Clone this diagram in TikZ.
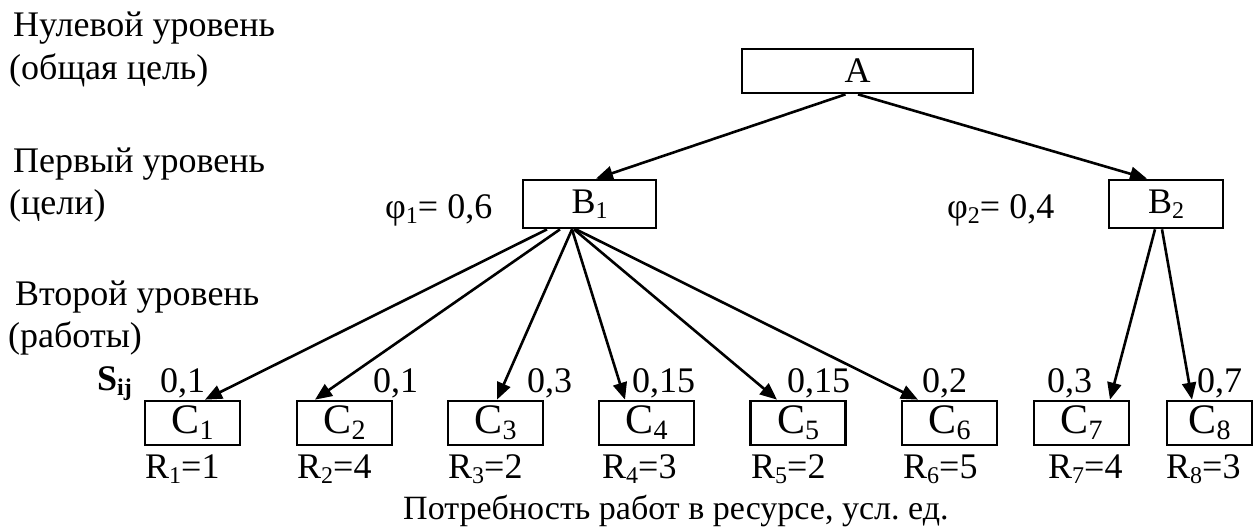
\documentclass[tikz,border=0pt]{standalone}
\usepackage{fontspec}
\setmainfont{Liberation Serif}
\usetikzlibrary{arrows.meta}
\frenchspacing
\newcommand\lowsub[2][24]{\raisebox{-0.14em}{\fontsize{#1}{#1}\selectfont #2}}
\begin{document}
\begin{tikzpicture}[x=1pt,y=-1pt,
  box/.style={draw, line width=2.7pt, inner sep=0pt, font=\fontsize{36}{40}\selectfont},
  cbox/.style={box, minimum width=95pt, minimum height=44pt, font=\fontsize{42}{44}\selectfont},
  conn/.style={line width=2.6pt, -{Triangle[length=17pt,width=14pt]}},
  lbl/.style={anchor=base west, inner sep=0pt, font=\fontsize{36}{40}\selectfont}]
\useasboundingbox (0,0) rectangle (1253,527);

% level texts
\node[lbl] (t1) at (13,37) {Нулевой уровень};
\node[lbl] (t2) at (9,80) {(общая цель)};
\node[lbl] (t3) at (13,172) {Первый уровень};
\node[lbl] (t4) at (9,214) {(цели)};
\node[lbl] (t5) at (15,305) {Второй уровень};
\node[lbl] (t6) at (8,347) {(работы)};
\node[lbl] (sij) at (97,390) {\bfseries S\lowsub{ij}};

% boxes
\node[box, minimum width=231pt, minimum height=44pt] (A) at (857.5,71) {A};
\node[box, minimum width=133pt, minimum height=48pt] (B1) at (589.5,204) {B\lowsub{1}};
\node[box, minimum width=114pt, minimum height=48pt] (B2) at (1166,204) {B\lowsub{2}};
\node[cbox] (C1) at (192.5,423) {C\lowsub[28]{1}};
\node[cbox] (C2) at (344.5,423) {C\lowsub[28]{2}};
\node[cbox] (C3) at (495.5,423) {C\lowsub[28]{3}};
\node[cbox] (C4) at (646.5,423) {C\lowsub[28]{4}};
\node[cbox] (C5) at (798,423) {C\lowsub[28]{5}};
\node[cbox] (C6) at (949.5,423) {C\lowsub[28]{6}};
\node[cbox] (C7) at (1081.5,423) {C\lowsub[28]{7}};
\node[cbox, minimum width=85pt] (C8) at (1209.5,423) {C\lowsub[28]{8}};

% weights
\node[lbl] (p1) at (385,218) {φ\lowsub{1}= 0,6};
\node[lbl] (p2) at (947,218) {φ\lowsub{2}= 0,4};
\node[lbl] (s1) at (160,392) {0,1};
\node[lbl] (s2) at (373,392) {0,1};
\node[lbl] (s3) at (527,392) {0,3};
\node[lbl] (s4) at (632,392) {0,15};
\node[lbl] (s5) at (787,392) {0,15};
\node[lbl] (s6) at (922,392) {0,2};
\node[lbl] (s7) at (1047,392) {0,3};
\node[lbl] (s8) at (1197,392) {0,7};

% resources
\node[lbl] (r1) at (145,478) {R\lowsub{1}=1};
\node[lbl] (r2) at (297,478) {R\lowsub{2}=4};
\node[lbl] (r3) at (448,478) {R\lowsub{3}=2};
\node[lbl] (r4) at (602,478) {R\lowsub{4}=3};
\node[lbl] (r5) at (751,478) {R\lowsub{5}=2};
\node[lbl] (r6) at (903,478) {R\lowsub{6}=5};
\node[lbl] (r7) at (1048,478) {R\lowsub{7}=4};
\node[lbl] (r8) at (1166,478) {R\lowsub{8}=3};
\node[lbl, font=\fontsize{34}{38}\selectfont] (bot) at (403,519) {Потребность работ в ресурсе, усл. ед.};

% connectors
\draw[conn] ([xshift=-12pt]A.south) -- ([xshift=6.5pt]B1.north);
\draw[conn] ([xshift=0.5pt]A.south) -- ([xshift=-19pt]B2.north);
\draw[conn] ([xshift=-42.5pt]B1.south) -- ([xshift=12.5pt]C1.north);
\draw[conn] ([xshift=-29.5pt]B1.south) -- ([xshift=-29.5pt]C2.north);
\draw[conn] ([xshift=-17.5pt]B1.south) -- ([xshift=1.5pt]C3.north);
\draw[conn] ([xshift=-17.5pt]B1.south) -- ([xshift=-21.5pt]C4.north);
\draw[conn] ([xshift=-15.5pt]B1.south) -- ([xshift=-21pt]C5.north);
\draw[conn] ([xshift=-13.5pt]B1.south) -- ([xshift=-31.5pt]C6.north);
\draw[conn] ([xshift=-11pt]B2.south) -- ([xshift=28.5pt]C7.north);
\draw[conn] ([xshift=-4pt]B2.south) -- ([xshift=-17.5pt]C8.north);
\end{tikzpicture}
\end{document}
